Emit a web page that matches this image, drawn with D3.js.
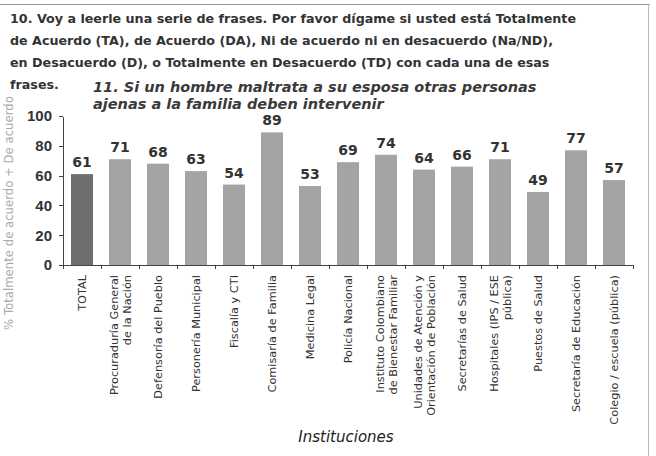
<!DOCTYPE html>
<head>
  <meta charset="utf-8">
  <script src="https://d3js.org/d3.v7.min.js"></script>
  <style>
    body { margin: 0; background: #fff; }
    svg { display: block; font-family: 'DejaVu Sans', sans-serif; }
    .title { font-size: 12.7px; font-weight: bold; fill: #333; }
    .subtitle { font-size: 14.5px; font-style: italic; font-weight: bold; fill: #3a3a3a; }
    .axis path, .axis line { stroke: #444; stroke-width: 1px; shape-rendering: crispEdges; }
    .axis--y text { font-size: 15px; font-weight: bold; fill: #333; }
    .axis--x text { font-size: 11.3px; fill: #333; }
    .value { font-size: 14px; font-weight: bold; fill: #333; text-anchor: middle; }
  </style>
</head>
<body>
<svg width="656" height="456"></svg>
<script>

var titleLines = [
  "10. Voy a leerle una serie de frases. Por favor dígame si usted está Totalmente",
  "de Acuerdo (TA), de Acuerdo (DA), Ni de acuerdo ni en desacuerdo (Na/ND),",
  "en Desacuerdo (D), o Totalmente en Desacuerdo (TD) con cada una de esas",
  "frases."
];
var subtitleLines = [
  "11. Si un hombre maltrata a su esposa otras personas",
  "ajenas a la familia deben intervenir"
];
var categories = [
  ["TOTAL"],
  ["Procuraduría General", "de la Nación"],
  ["Defensoría del Pueblo"],
  ["Personería Municipal"],
  ["Fiscalía y CTI"],
  ["Comisaría de Familia"],
  ["Medicina Legal"],
  ["Policía Nacional"],
  ["Instituto Colombiano", "de Bienestar Familiar"],
  ["Unidades de Atención y", "Orientación de Población"],
  ["Secretarías de Salud"],
  ["Hospitales (IPS / ESE", "pública)"],
  ["Puestos de Salud"],
  ["Secretaría de Educación"],
  ["Colegio / escuela (pública)"]
];
var values = [61, 71, 68, 63, 54, 89, 53, 69, 74, 64, 66, 71, 49, 77, 57];
var yTicks = [0, 20, 40, 60, 80, 100];

var svg = d3.select("svg");
var margin = {top: 116, right: 23, bottom: 191, left: 63};
var width = 656 - margin.left - margin.right;
var height = 456 - margin.top - margin.bottom;

// frame lines of the scanned page
svg.append("line").attr("x1", 0).attr("x2", 650).attr("y1", 4.5).attr("y2", 4.5)
  .attr("stroke", "#999");
svg.append("line").attr("x1", 648.5).attr("x2", 648.5).attr("y1", 4).attr("y2", 456)
  .attr("stroke", "#bbb");

svg.selectAll(".title").data(titleLines).enter().append("text")
  .attr("class", "title")
  .attr("x", 10)
  .attr("y", function(d, i) { return 23 + i * 22; })
  .text(function(d) { return d; });

svg.selectAll(".subtitle").data(subtitleLines).enter().append("text")
  .attr("class", "subtitle")
  .attr("x", 93)
  .attr("y", function(d, i) { return 92 + i * 17; })
  .text(function(d) { return d; });

var g = svg.append("g")
  .attr("transform", "translate(" + margin.left + "," + margin.top + ")");

var x = d3.scaleBand()
  .domain(d3.range(categories.length))
  .range([0, width])
  .paddingInner(0.42)
  .paddingOuter(0.21);

var y = d3.scaleLinear().domain([0, 100]).range([height, 0]);

g.selectAll(".bar").data(values).enter().append("rect")
  .attr("class", "bar")
  .attr("x", function(d, i) { return x(i); })
  .attr("y", function(d) { return y(d); })
  .attr("width", x.bandwidth())
  .attr("height", function(d) { return height - y(d); })
  .attr("fill", function(d, i) { return i === 0 ? "#6f6f6f" : "#a4a4a4"; });

g.selectAll(".value").data(values).enter().append("text")
  .attr("class", "value")
  .attr("x", function(d, i) { return x(i) + x.bandwidth() / 2; })
  .attr("y", function(d) { return y(d) - 7; })
  .text(function(d) { return d; });

// y axis
g.append("g")
  .attr("class", "axis axis--y")
  .call(d3.axisLeft(y).tickValues(yTicks).tickSize(4).tickSizeOuter(0).tickPadding(7));

// x axis: ticks between the bars
var xa = g.append("g")
  .attr("class", "axis axis--x")
  .attr("transform", "translate(0," + height + ")");
xa.append("line").attr("x1", 0).attr("x2", width);
var step = width / categories.length;
xa.selectAll(".tk").data(d3.range(categories.length + 1)).enter().append("line")
  .attr("class", "tk")
  .attr("x1", function(d) { return d * step; })
  .attr("x2", function(d) { return d * step; })
  .attr("y1", 0).attr("y2", 4);

var lab = xa.selectAll(".lab").data(categories).enter().append("text")
  .attr("class", "lab")
  .attr("text-anchor", "end")
  .attr("transform", function(d, i) {
    var cx = x(i) + x.bandwidth() / 2;
    return "translate(" + cx + ",10) rotate(-90)";
  });
lab.selectAll("tspan").data(function(d) { return d; }).enter().append("tspan")
  .attr("x", 0)
  .attr("y", function(d, j, nodes) { return 4 + (j - (nodes.length - 1) / 2) * 13; })
  .text(function(d) { return d; });

svg.append("text")
  .attr("transform", "translate(13,213) rotate(-90)")
  .attr("text-anchor", "middle")
  .style("font-size", "11.7px")
  .style("fill", "#aaa")
  .text("% Totalmente de acuerdo + De acuerdo");

svg.append("text")
  .attr("x", margin.left + width / 2 - 2)
  .attr("y", 442)
  .attr("text-anchor", "middle")
  .style("font-size", "15px")
  .style("font-style", "italic")
  .style("fill", "#222")
  .text("Instituciones");

</script>
</body>
